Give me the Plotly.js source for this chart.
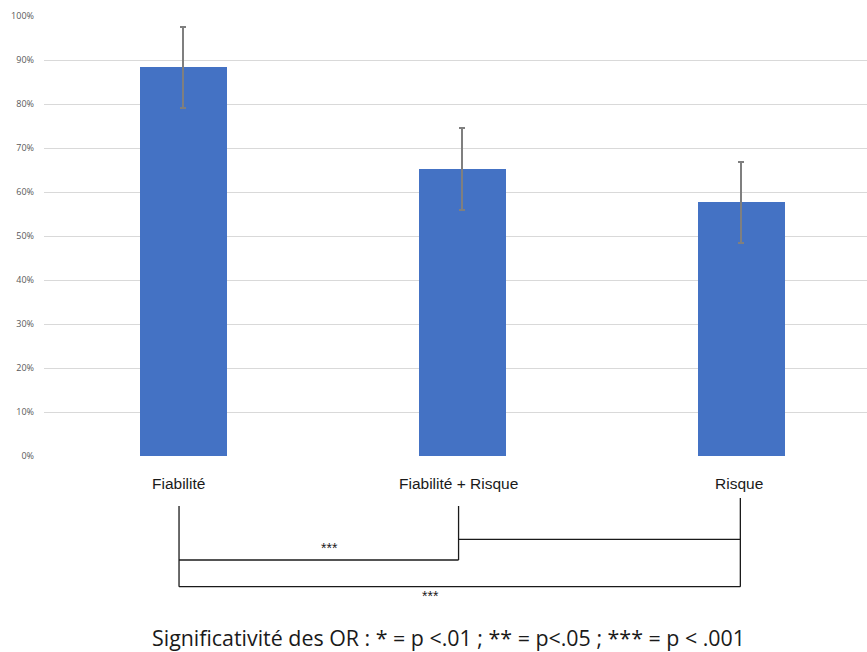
<!DOCTYPE html>
<html>
<head>
<meta charset="utf-8">
<script src="https://cdn.plot.ly/plotly-3.0.1.min.js"></script>
<style>html,body{margin:0;padding:0;background:#fff;}#chart{width:867px;height:652px;}</style>
</head>
<body>
<div id="chart"></div>
<script>
// Data
const categories = ["Fiabilité", "Fiabilité + Risque", "Risque"];
const values = [0.883, 0.652, 0.577];
const errors = [0.093, 0.093, 0.092];
const yTickVals = [0, 0.1, 0.2, 0.3, 0.4, 0.5, 0.6, 0.7, 0.8, 0.9, 1.0];
const footnote = "Significativité des OR : * = p <.01 ; ** = p<.05 ; *** = p < .001";
const sigLabel = "***";

const trace = {
  type: "bar",
  x: categories,
  y: values,
  width: 0.31,
  marker: {color: "#4472C4", line: {width: 0}},
  error_y: {type: "data", array: errors, visible: true, color: "#7f7f7f", thickness: 2, width: 3},
  hoverinfo: "none"
};

const shift = [-0.016, -0.014, -0.004];
const lineStyle = {color: "#1a1a1a", width: 1.3};
function seg(i0, i1, y0, y1) {
  return {type: "line", xref: "x", yref: "paper", x0: categories[i0], x1: categories[i1],
    x0shift: shift[i0], x1shift: shift[i1], y0: y0, y1: y1, line: lineStyle};
}
const shapes = [
  seg(0, 0, -0.1136, -0.2970),
  seg(1, 1, -0.1136, -0.2364),
  seg(2, 2, -0.0955, -0.2970),
  seg(0, 1, -0.2364, -0.2364),
  seg(1, 2, -0.1893, -0.1893),
  seg(0, 2, -0.2970, -0.2970)
];

const labelFont = {family: "Liberation Sans, Arial, sans-serif", size: 15.5, color: "#1a1a1a"};
const labelShift = [-5, -4, -2];
const annotations = categories.map((c, i) => ({
  x: c, xref: "x", y: -0.0614, yref: "paper", text: c, showarrow: false,
  font: labelFont, xanchor: "center", yanchor: "middle", xshift: labelShift[i]
}));
const starFont = {family: "Liberation Sans, Arial, sans-serif", size: 14, color: "#1a1a1a"};
annotations.push({x: 0.525, xref: "x", y: -0.2091, yref: "paper", text: sigLabel, showarrow: false,
  font: starFont, xanchor: "center", yanchor: "middle"});
annotations.push({x: 0.887, xref: "x", y: -0.3182, yref: "paper", text: sigLabel, showarrow: false,
  font: starFont, xanchor: "center", yanchor: "middle"});
annotations.push({x: (448 - 44) / (867 - 44), xref: "paper", y: -0.4136, yref: "paper", text: footnote, showarrow: false,
  font: {family: "Open Sans, Noto Sans, sans-serif", size: 21.4, color: "#1a1a1a"}, xanchor: "center", yanchor: "middle"});

const layout = {
  width: 867,
  height: 652,
  margin: {l: 44, r: 0, t: 16, b: 196},
  paper_bgcolor: "#ffffff",
  plot_bgcolor: "#ffffff",
  showlegend: false,
  bargap: 0,
  xaxis: {
    type: "category",
    range: [-0.5, 2.45],
    showticklabels: false,
    showgrid: false,
    zeroline: false,
    showline: false,
    ticks: ""
  },
  yaxis: {
    range: [0, 1.0],
    tickvals: yTickVals,
    tickformat: ".0%",
    showgrid: true,
    gridcolor: "#d9d9d9",
    gridwidth: 1,
    zeroline: false,
    showline: false,
    ticks: "",
    ticklabelstandoff: 9,
    tickfont: {family: "Open Sans, Noto Sans, sans-serif", size: 9, color: "#595959"}
  },
  shapes: shapes,
  annotations: annotations
};

Plotly.newPlot("chart", [trace], layout, {displayModeBar: false, staticPlot: true});
</script>
</body>
</html>
